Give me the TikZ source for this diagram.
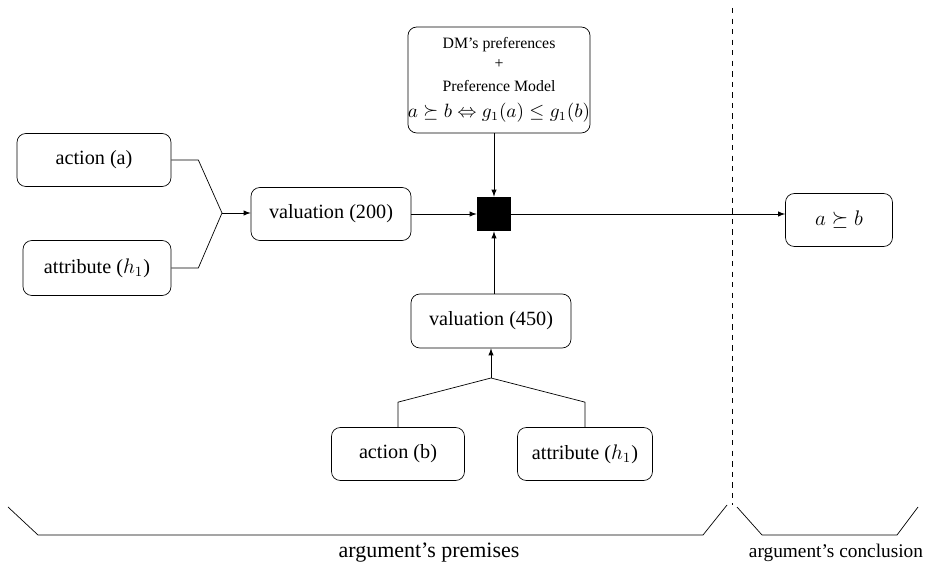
\documentclass[tikz,border=0pt]{standalone}
\usepackage{amsmath,amssymb}
\usepackage{fontspec}
\setmainfont{Liberation Serif}
\usetikzlibrary{calc}

\begin{document}
\begin{tikzpicture}[x=0.02cm,y=-0.02cm,>=latex,
		box/.style={draw,rounded corners=5pt,align=center,inner sep=1pt,minimum height=1.06cm},
		font=\rmfamily\fontsize{11.5}{13}\selectfont]
		\useasboundingbox (0,0) rectangle (937,570);
		% boxes
		\node[box,minimum width=3.52cm,minimum height=2.12cm,inner sep=0pt,font=\rmfamily\fontsize{10.5}{12}\selectfont] (dm) at (499,80)
			{\fontsize{9}{11}\selectfont DM's preferences\\[-1pt] \fontsize{9}{11}\selectfont +\\[1pt]
			 \fontsize{9}{11}\selectfont Preference Model\\[3pt] $a\succeq b\Leftrightarrow g_1(a)\leq g_1(b)$};
		\node[box,minimum width=3.08cm] (actiona) at (94,160) {action (a)};
		\node[box,minimum width=2.96cm,minimum height=1.1cm] (attra) at (97,268) {attribute ($h_1$)};
		\node[box,minimum width=3.2cm] (val200) at (331,214) {valuation (200)};
		\node[fill=black,minimum size=0.68cm,inner sep=0pt] (sq) at (494,214) {};
		\node[box,minimum width=3.2cm,minimum height=1.08cm] (val450) at (491,321) {valuation (450)};
		\node[box,minimum width=2.66cm] (actionb) at (398,454) {action (b)};
		\node[box,minimum width=2.7cm] (attrb) at (585,454) {attribute ($h_1$)};
		\node[box,minimum width=2.14cm,font=\fontsize{13}{15}\selectfont] (concl) at (839,220) {$a\succeq b$};
		% joins
		\coordinate (ja) at (222,213);
		\coordinate (jb) at (491,378);
		\draw (actiona.east) -- ++(27,0) -- (ja);
		\draw (attra.east) -- ++(27,0) -- (ja);
		\draw[->] (ja) -- (val200.west |- ja);
		\draw (actionb.north) -- ++(0,-25) -- (jb);
		\draw (attrb.north) -- ++(0,-25) -- (jb);
		\draw[->] (jb) -- (val450.south);
		% into the square
		\draw[->] (val200.east) -- (sq.west);
		\draw[->] (sq.north |- dm.south) -- (sq.north);
		\draw[->] (sq.south |- val450.north) -- (sq.south);
		\draw[->] (sq.east) -- (sq.east -| concl.west);
		% premises | conclusion
		\draw[dashed] (732,8) -- (732,505);
		\draw (8,507) -- (38,535) -- (703,535) -- (727,505);
		\draw (737,507) -- (762,535) -- (897,535) -- (918,507);
		\node[font=\rmfamily\fontsize{12.5}{14}\selectfont] (prem) at (429,553) {argument's premises};
		\node[font=\rmfamily\fontsize{11}{13}\selectfont] (conc) at (836,553) {argument's conclusion};
\end{tikzpicture}
\end{document}
